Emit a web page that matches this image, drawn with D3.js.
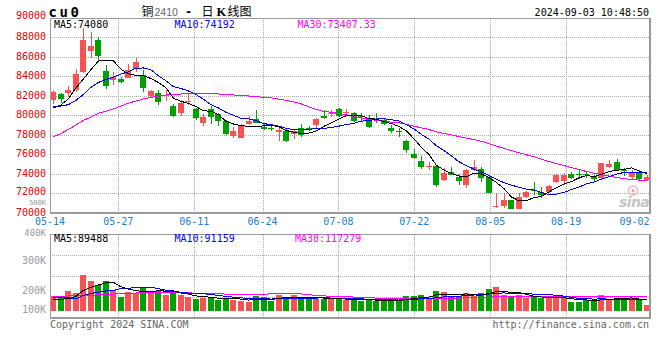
<!DOCTYPE html>
<html><head><meta charset="utf-8">
<script src="https://cdn.jsdelivr.net/npm/d3@7"></script>
<style>html,body{margin:0;padding:0;background:#fff;}svg{display:block;}</style>
</head><body>
<svg id="chart" width="660" height="360"></svg>
<script>
// ---------------- DATA ----------------
const dates = ["05-14","05-15","05-16","05-17","05-20","05-21","05-22","05-23","05-24","05-27","05-28","05-29","05-30","05-31",
"06-03","06-04","06-05","06-06","06-07","06-11","06-12","06-13","06-14","06-17","06-18","06-19","06-20","06-21",
"06-24","06-25","06-26","06-27","06-28","07-01","07-02","07-03","07-04","07-05","07-08","07-09","07-10","07-11","07-12",
"07-15","07-16","07-17","07-18","07-19","07-22","07-23","07-24","07-25","07-26","07-29","07-30","07-31","08-01","08-02",
"08-05","08-06","08-07","08-08","08-09","08-12","08-13","08-14","08-15","08-16","08-19","08-20","08-21","08-22","08-23",
"08-26","08-27","08-28","08-29","08-30","09-02","09-03"];
const open  = [81570,82190,82340,82650,84460,86680,87770,84600,83670,83770,83910,84800,84180,82060,82310,82110,81040,80320,81500,80670,
79260,80670,80150,79470,77960,77760,79210,79650,78820,78780,78310,78490,78100,78720,78740,79010,79980,80270,80670,80400,
80290,79930,79740,79650,79520,78800,78490,77420,76110,75370,74830,74850,73420,74240,73750,72900,74470,74520,73750,70680,
70780,71370,70450,71700,72420,72220,72220,73240,73280,74000,74050,74050,73800,73590,74750,75260,74420,73720,74240,73420];
const high  = [82650,82340,83060,84800,89040,88630,88110,85210,84460,84010,85280,85960,84700,82650,82650,82650,81180,81620,82200,80770,
80190,81000,80260,79520,78880,79110,79980,80600,79130,79010,78720,78780,78650,79110,78990,79810,80600,80600,80800,80680,
80420,80320,80080,80290,79670,79060,78720,77520,76580,75880,75290,74950,74620,74800,74000,74540,75470,74800,73930,72130,
72050,71400,72110,72290,73210,72730,72900,74080,74170,74270,74440,74270,73930,75190,75470,75600,74600,74440,74440,73930];
const low   = [81260,81310,81930,82390,84360,85900,85550,82750,83160,83330,83850,84520,82410,81860,81110,81520,79910,80010,81110,79570,
78950,79160,78990,78030,77750,77750,79060,79230,78540,78440,77420,77340,77570,77860,78440,78750,79640,79880,79880,80080,
79360,79400,78720,79290,79060,78270,77810,76190,75550,74540,74440,72730,73310,73880,72900,72630,74340,73160,72050,70510,
70550,70420,70420,71620,71880,71600,72130,73080,72900,73520,73520,73670,73360,73490,74620,74390,73830,73420,73420,73340];
const close = [82420,81720,82650,84260,87770,87190,86160,83090,84010,83500,84700,85490,82880,82540,81450,82140,80010,81280,81520,79810,
79880,79910,79470,78100,78440,79060,79470,79310,78620,78600,78540,77420,78440,77980,78710,79650,79740,80290,79960,80420,
79470,79900,78880,79620,79210,78460,78470,76540,75700,74700,74850,72900,74100,73960,73310,74470,74780,73670,72130,70780,
71370,70450,71700,72150,72390,71880,72800,73960,73960,73640,73880,73900,73470,75130,75040,74490,74390,74240,73550,73770];
const volume = [121000,113000,170000,154000,296000,254000,213000,254000,175000,115000,157000,150000,204000,169000,170000,132000,150000,132000,119000,96000,
108000,115000,94000,108000,94000,87000,73000,121000,115000,82000,132000,115000,132000,102000,102000,102000,102000,96000,106000,92000,
94000,87000,94000,87000,87000,87000,83000,129000,129000,136000,102000,170000,162000,115000,121000,146000,124000,154000,185000,196000,
136000,116000,135000,108000,115000,110000,105000,108000,115000,73000,73000,90000,90000,136000,90000,105000,105000,108000,90000,54000];
// moving-average values before the window is full (earlier sessions not shown)
const ma5Prefix  = [80800,81108,81723,82852];
const ma10Prefix = [80903,81005,81139,81569,82185,82903,83416,83723,83949];
const ma30Prefix = [77826,78185,78595,79057,79518,79877,80256,80461,80698,81005,81282,81518,81723,81897,82031,82134,82205,82236,82267,82287,
82287,82267,82236,82185,82134,82082,82031,81980,81877];
const volMa5Prefix  = [98000,98000,102000,121000];
const volMa10Prefix = [110000,110000,110000,100000,129000,146000,157000,167000,171000];
const volMa30Prefix = [123000,124000,125000,126000,128000,131000,134000,138000,141000,144000,147000,150000,152000,154000,155000,155000,154000,153000,151000,149000,
147000,145000,143000,141000,139000,138000,137000,137000,138000];
const priceTicks = [90000,88000,86000,84000,82000,80000,78000,76000,74000,72000,70000];
const volTickValues = [500000,400000,300000,200000,100000];
const volTickLabels = ["500K","400K","300K","200K","100K"];
const dateTicks = ["05-14","05-27","06-11","06-24","07-08","07-22","08-05","08-19","09-02"];
const legendMain = ["MA5:74080","MA10:74192","MA30:73407.33"];
const legendVol  = ["MA5:89488","MA10:91159","MA30:117279"];
const symbolText = "cu0";
const titleParts = ["铜","2410","-","日","K","线图"];
const timestamp = "2024-09-03 10:48:50";
const footerLeft = "Copyright 2024 SINA.COM";
const footerRight = "http://finance.sina.com.cn";

// ---------------- LAYOUT ----------------
const L = 50, R = 650, mainTop = 18.3, mainBot = 213.3, volTop = 234.5, volBot = 318.3;
const RED = "#fa5252", GREEN = "#00a000", GRID = "#a8a8a8", BORDER = "#999";
const MONO = "'DejaVu Sans Mono', monospace";
const svg = d3.select("#chart");

const n = close.length;
const x = d3.scaleBand().domain(d3.range(n)).range([49.5, 650.3]);
const cx = i => x(i) + x.bandwidth() / 2;
const gridX = d3.scaleLinear().domain([0, n - 1]).range([50, 649.6]);
const yP = d3.scaleLinear().domain([70000, 90000]).range([mainBot, mainTop]);
const yV = d3.scaleLinear().domain([0, 100000]).range([311, 299]);
// baseline positions of the volume-axis labels (as drawn by the source, not linear)
const volLabelBase = d3.scaleLinear().domain([100000,200000,300000,400000,500000]).range([313,293.6,264.3,236.3,205]);
const volLabelSize = v => v >= 500000 ? 7 : (v >= 400000 ? 9 : 10);
const priceLabelBase = (v, k) => yP(v) + (k === 0 ? 1 : (v === 72000 ? 1.6 : (v === 70000 ? 3.1 : 2.6)));

function movingAvg(arr, k, prefix) {
  return arr.map((d, i) => i < k - 1 ? prefix[i] : d3.mean(arr.slice(i - k + 1, i + 1)));
}
const ma5 = movingAvg(close, 5, ma5Prefix), ma10 = movingAvg(close, 10, ma10Prefix), ma30 = movingAvg(close, 30, ma30Prefix);
const vma5 = movingAvg(volume, 5, volMa5Prefix), vma10 = movingAvg(volume, 10, volMa10Prefix), vma30 = movingAvg(volume, 30, volMa30Prefix);

const tickIdx = dateTicks.map(d => dates.indexOf(d));

// ---------------- GRID ----------------
const grid = svg.append("g").attr("shape-rendering", "crispEdges");
grid.selectAll("line.h").data(priceTicks.filter(v => v > 70000 && v < 90000)).join("line")
  .attr("x1", L).attr("x2", R)
  .attr("y1", v => Math.floor(yP(v)) + 0.5).attr("y2", v => Math.floor(yP(v)) + 0.5)
  .attr("stroke", GRID).attr("stroke-dasharray", "1,1");
const volGrid = d3.scaleLinear().domain([0, 4]).range([volTop, volBot]);
grid.selectAll("line.vh").data([1, 2, 3]).join("line")
  .attr("x1", L).attr("x2", R)
  .attr("y1", k => Math.floor(volGrid(k)) + 0.5).attr("y2", k => Math.floor(volGrid(k)) + 0.5)
  .attr("stroke", GRID).attr("stroke-dasharray", "1,1");
const vIdx = tickIdx.filter(i => i > 0 && i < n - 2);
[[mainTop, mainBot], [volTop, volBot]].forEach(([t, b]) => {
  grid.selectAll(null).data(vIdx).join("line")
    .attr("x1", i => Math.round(gridX(i)) + 0.5).attr("x2", i => Math.round(gridX(i)) + 0.5)
    .attr("y1", t).attr("y2", b)
    .attr("stroke", GRID).attr("stroke-dasharray", "1,1");
});

// ---------------- CANDLES ----------------
const candles = svg.append("g").attr("shape-rendering", "crispEdges");
const bodyW = 6;
const colorOf = i => close[i] >= open[i] ? RED : GREEN;
candles.selectAll("line.wick").data(d3.range(n)).join("line")
  .attr("x1", i => Math.round(cx(i) - bodyW / 2) + 3.5).attr("x2", i => Math.round(cx(i) - bodyW / 2) + 3.5)
  .attr("y1", i => Math.round(yP(high[i]))).attr("y2", i => Math.round(yP(low[i])))
  .attr("stroke", colorOf).attr("stroke-width", 1);
candles.selectAll("rect.body").data(d3.range(n)).join("rect")
  .attr("x", i => Math.round(cx(i) - bodyW / 2)).attr("width", bodyW)
  .attr("y", i => Math.round(yP(Math.max(open[i], close[i]))))
  .attr("height", i => Math.max(1, Math.round(yP(Math.min(open[i], close[i]))) - Math.round(yP(Math.max(open[i], close[i])))))
  .attr("fill", colorOf);

// ---------------- VOLUME ----------------
const vols = svg.append("g").attr("shape-rendering", "crispEdges");
vols.selectAll("rect").data(d3.range(n)).join("rect")
  .attr("x", i => Math.round(cx(i) - bodyW / 2)).attr("width", bodyW)
  .attr("y", i => Math.round(yV(volume[i])))
  .attr("height", i => Math.round(yV(0)) - Math.round(yV(volume[i])))
  .attr("fill", colorOf);

// ---------------- MA LINES ----------------
const lines = svg.append("g").attr("fill", "none").attr("stroke-width", 1).attr("shape-rendering", "crispEdges");
const lineP = d3.line().x((d, i) => cx(i)).y(d => yP(d));
const lineV = d3.line().x((d, i) => cx(i)).y(d => yV(d));
[[ma30, "#ff00ff"], [ma10, "#0000ff"], [ma5, "#000"]].forEach(([arr, c]) => lines.append("path").attr("d", lineP(arr)).attr("stroke", c));
[[vma30, "#ff00ff"], [vma10, "#0000ff"], [vma5, "#000"]].forEach(([arr, c]) => lines.append("path").attr("d", lineV(arr)).attr("stroke", c));

// ---------------- BORDERS ----------------
const bd = svg.append("g").attr("stroke", BORDER).attr("shape-rendering", "crispEdges");
[[mainTop, mainBot], [volTop, volBot]].forEach(([t, b]) => {
  bd.append("line").attr("x1", L).attr("x2", R + 1).attr("y1", Math.floor(t) + 0.5).attr("y2", Math.floor(t) + 0.5);
  bd.append("line").attr("x1", L).attr("x2", R + 1).attr("y1", Math.floor(b)).attr("y2", Math.floor(b)).attr("stroke-width", 2);
  bd.append("line").attr("x1", L + 0.5).attr("x2", L + 0.5).attr("y1", t).attr("y2", b);
  bd.append("line").attr("x1", R).attr("x2", R).attr("y1", t).attr("y2", b + 1).attr("stroke-width", 2);
});

// ---------------- WATERMARK ----------------
const wm = svg.append("g");
wm.append("circle").attr("cx", 633).attr("cy", 190.5).attr("r", 4.5).attr("fill", "none").attr("stroke", "#f2c4c4").attr("stroke-width", 2);
wm.append("circle").attr("cx", 633).attr("cy", 190.5).attr("r", 1.5).attr("fill", "#ee9a9a");
wm.append("text").attr("x", 619).attr("y", 207).text("sina")
  .attr("font-family", "'DejaVu Sans', sans-serif").attr("font-size", 14).attr("font-weight", "bold")
  .attr("font-style", "italic").attr("fill", "#c4c4c4").attr("letter-spacing", -0.6);

// ---------------- TEXT ----------------
const txt = svg.append("g").attr("font-family", MONO).attr("font-size", 10);
txt.selectAll("text.py").data(priceTicks).join("text")
  .attr("x", 46).attr("y", priceLabelBase).attr("text-anchor", "end")
  .attr("fill", "#e00000").text(v => v);
txt.selectAll("text.vy").data(volTickValues).join("text")
  .attr("x", 46).attr("y", v => volLabelBase(v)).attr("text-anchor", "end")
  .attr("font-size", volLabelSize)
  .attr("fill", "#9a9a9a").text((v, k) => volTickLabels[k]);
txt.selectAll("text.dx").data(tickIdx).join("text")
  .attr("x", i => Math.min(gridX(i), 649 - 14.5)).attr("y", 225.3).attr("text-anchor", "middle")
  .attr("fill", "#1a80d0").text((i, k) => dateTicks[k]);

const legX = [54, 174.5, 297.5], legC = ["#000", "#0000ff", "#ff00ff"];
legendMain.forEach((s, k) => txt.append("text").attr("x", legX[k]).attr("y", 27.5).attr("fill", legC[k]).text(s));
const legVX = [54, 174.5, 295];
legendVol.forEach((s, k) => txt.append("text").attr("x", legVX[k]).attr("y", 241.8).attr("fill", legC[k]).text(s));

txt.append("text").attr("x", 649).attr("y", 16).attr("text-anchor", "end").attr("fill", "#000").text(timestamp);
txt.append("text").attr("x", 50).attr("y", 327.5).attr("fill", "#666").text(footerLeft);
txt.append("text").attr("x", 649).attr("y", 327.5).attr("text-anchor", "end").attr("fill", "#666").text(footerRight);

svg.append("text").attr("x", 48.5).attr("y", 16.5).text(symbolText)
  .attr("font-family", MONO).attr("font-size", 14).attr("font-weight", "bold").attr("letter-spacing", 2.6).attr("fill", "#000");

const title = svg.append("text").attr("y", 15.5).attr("font-size", 12).attr("fill", "#000")
  .attr("font-family", "'Noto Sans CJK SC', sans-serif");
const tX = [141.5, 154.5, 185, 201.5, 216.5, 227.5];
titleParts.forEach((s, k) => {
  const t = title.append("tspan").attr("x", tX[k]).text(s);
  if (k === 1) t.attr("fill", "#666").attr("font-family", "'Liberation Sans', sans-serif").attr("font-size", 10.5);
  if (k === 2) t.attr("font-family", MONO).attr("font-weight", "bold");
  if (k === 4) t.attr("font-family", "'Liberation Serif', serif").attr("font-weight", "bold").attr("font-size", 12.5);
});
</script>
</body></html>
